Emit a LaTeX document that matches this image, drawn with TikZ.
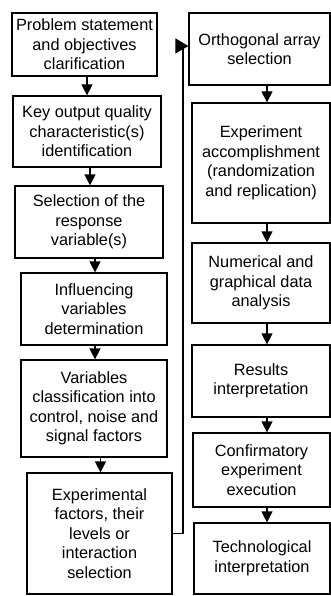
\documentclass[tikz,border=0pt]{standalone}
\usepackage{fontspec}
\setmainfont{Liberation Sans}
\usetikzlibrary{arrows.meta}
\tikzset{
  box/.style={draw=black, line width=1.2pt, inner sep=0pt, align=center,
    font=\fontsize{16.3}{19.5}\selectfont},
  arr/.style={draw=black, line width=1.2pt, -{Triangle[length=11pt,width=11pt]}},
  larr/.style={draw=black, line width=1.2pt, -{Triangle[length=13pt,width=15pt]}}
}
\newcommand\mybox[6]{%
  \node[box, minimum width={#3-#2}, minimum height={#5-#4}] (#1)
    at ({(#2+#3)/2},{(#4+#5)/2}) {#6};}
\begin{document}
\begin{tikzpicture}[x=1pt,y=-1pt]
\useasboundingbox (0,0) rectangle (331,596);
% left column
\mybox{b1}{12}{157}{13}{76}{Problem statement\\and objectives\\clarification}
\mybox{b2}{13}{161}{96}{167}{Key output quality\\characteristic(s)\\identification}
\mybox{b3}{15}{163}{186}{258}{Selection of the\\response\\variable(s)}
\mybox{b4}{21}{167}{273}{345}{Influencing\\variables\\determination}
\mybox{b5}{21}{167}{360}{457}{Variables\\classification into\\control, noise and\\signal factors}
\mybox{b6}{27}{172}{473}{594}{Experimental\\factors, their\\levels or\\interaction\\selection}
% right column
\mybox{b7}{189}{330}{13}{85}{Orthogonal array\\selection}
\mybox{b8}{192}{330}{103}{223}{Experiment\\accomplishment\\(randomization\\and replication)}
\mybox{b9}{192}{330}{243}{323}{Numerical and\\graphical data\\analysis}
\mybox{b10}{192}{330}{345}{417}{Results\\interpretation}
\mybox{b11}{193}{330}{433}{507}{Confirmatory\\experiment\\execution}
\mybox{b12}{194}{330}{523}{594}{Technological\\interpretation}
% left arrows
\draw[arr] (b2.north |- b1.south) -- (b2.north);
\draw[arr] ([xshift=1pt]b3.north |- b2.south) -- ([xshift=1pt]b3.north);
\draw[arr] ([xshift=1pt]b4.north |- b3.south) -- ([xshift=1pt]b4.north);
\draw[arr] ([xshift=1pt]b5.north |- b4.south) -- ([xshift=1pt]b5.north);
\draw[arr] ([xshift=1pt]b6.north |- b5.south) -- ([xshift=1pt]b6.north);
% right arrows
\coordinate (ax) at (267,0);
\draw[arr] (ax |- b7.south) -- (ax |- b8.north);
\draw[arr] (ax |- b8.south) -- (ax |- b9.north);
\draw[arr] (ax |- b9.south) -- (ax |- b10.north);
\draw[arr] (ax |- b10.south) -- (ax |- b11.north);
\draw[arr] (ax |- b11.south) -- (ax |- b12.north);
% loop connector
\coordinate (lc) at (183,0);
\draw[larr] (b6.east) -| (lc |- 0,46) -- (b7.west |- 0,46);
\end{tikzpicture}
\end{document}
